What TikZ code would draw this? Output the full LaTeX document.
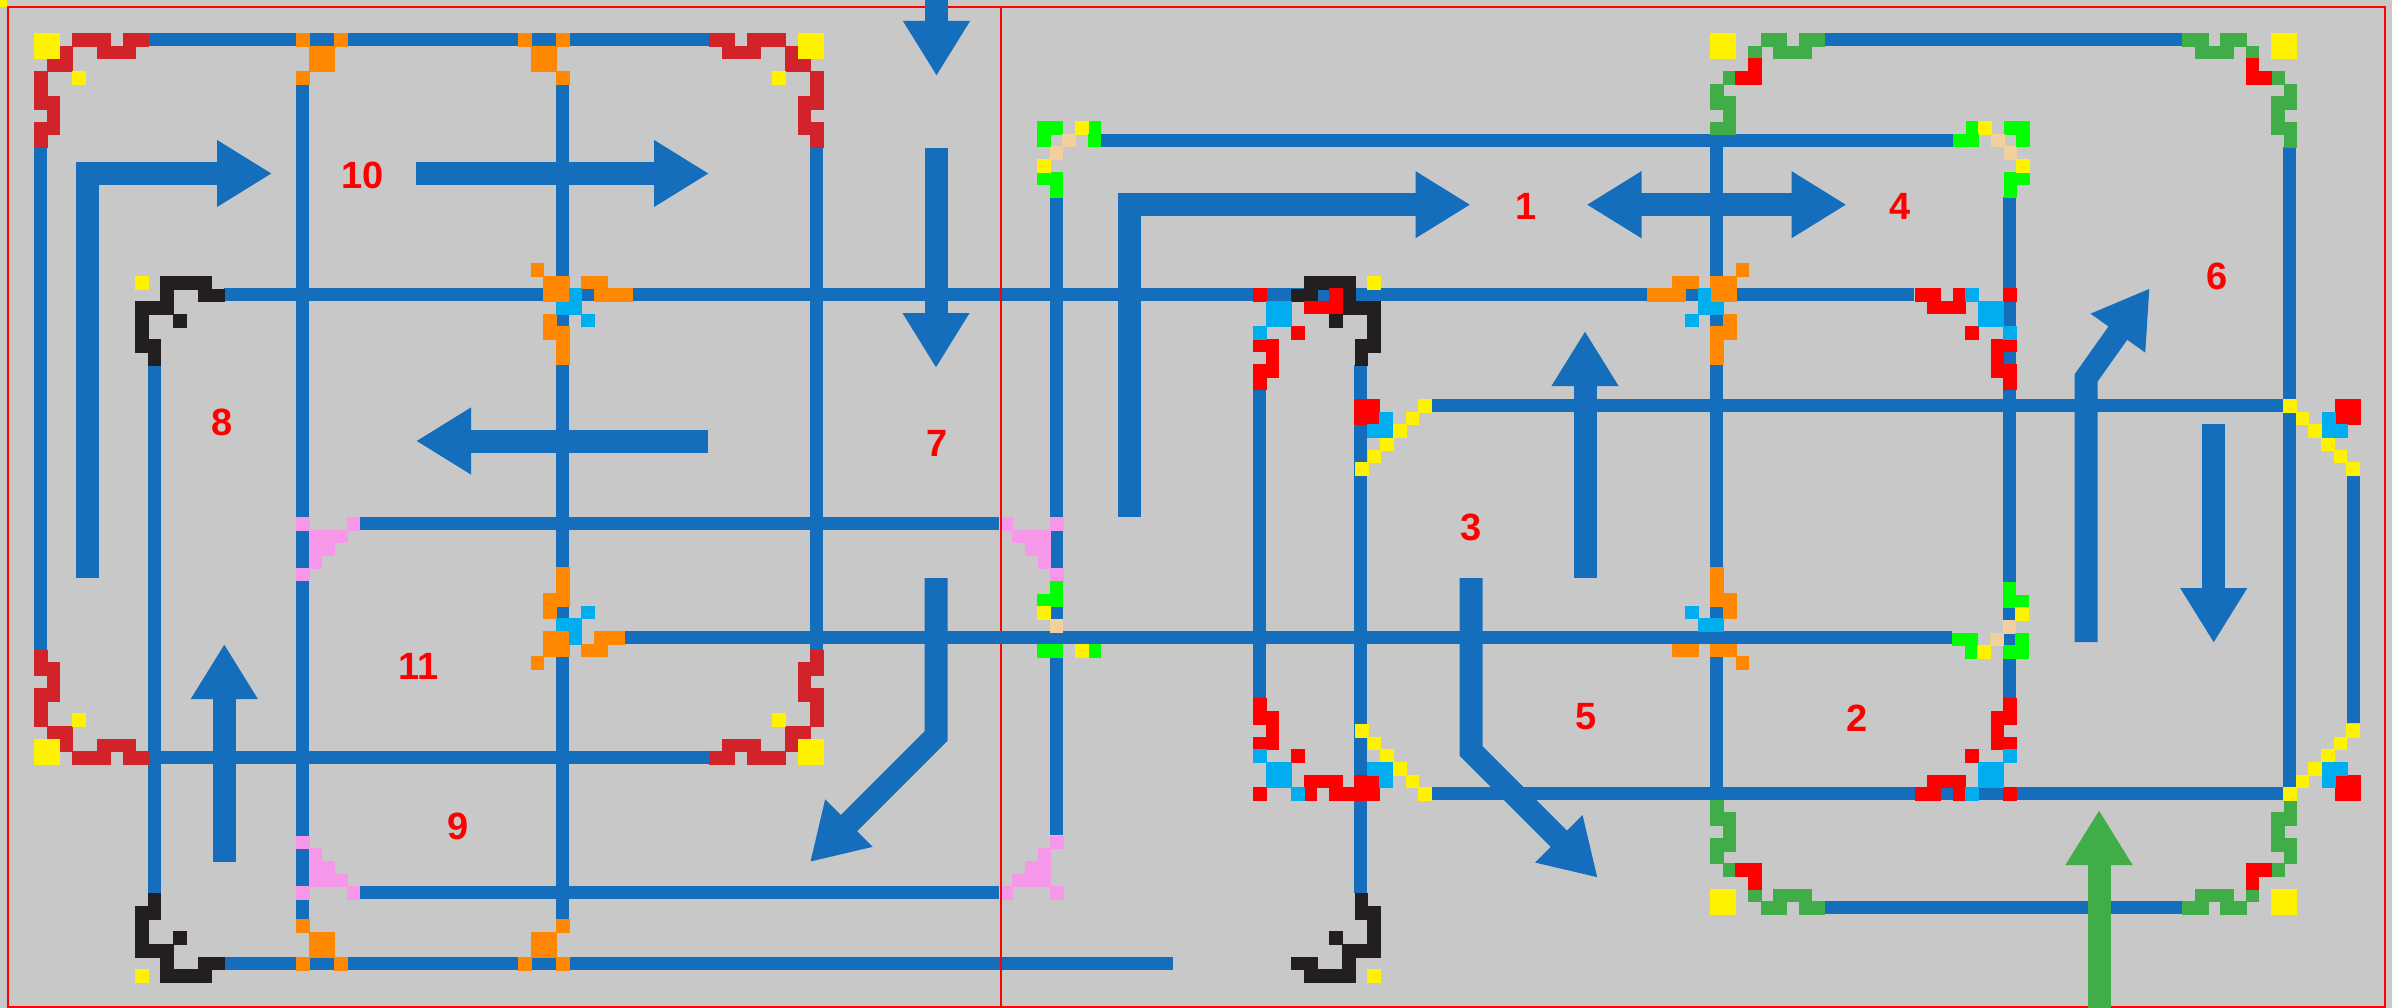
\documentclass[tikz,border=0pt]{standalone}
\usepackage{xcolor}
\usepackage{fontspec}
\setmainfont{Liberation Sans}
\usetikzlibrary{arrows.meta}

\definecolor{panelgray}{HTML}{C8C8C8}
\definecolor{lineblue}{HTML}{146EBC}
\definecolor{framered}{HTML}{FF0000}
\definecolor{brickred}{HTML}{D2232A}
\definecolor{dotyellow}{HTML}{FFF200}
\definecolor{crossorange}{HTML}{FF8800}
\definecolor{dotcyan}{HTML}{00AEEF}
\definecolor{limegreen}{HTML}{00FF00}
\definecolor{leafgreen}{HTML}{41AD49}
\definecolor{sandbeige}{HTML}{F1D09E}
\definecolor{softpink}{HTML}{F797EA}
\definecolor{nearblack}{HTML}{231F20}

\tikzset{
  wire/.style={line width=13pt, draw=lineblue},
  framer/.style={line width=2pt, draw=framered},
  bigarrow/.style={line width=23pt, line join=miter, draw=lineblue, -{Triangle[length=55pt,width=63pt]}},
  bothways/.style={line width=23pt, draw=lineblue, {Triangle[length=55pt,width=63pt]}-{Triangle[length=55pt,width=63pt]}},
  zone/.style={text=framered, font=\bfseries\fontsize{38}{38}\selectfont, inner sep=0pt}
}

% anchor x, anchor y, x sign, y sign, colour, list of col/row
\newcommand{\cells}[6]{%
  \foreach \i/\j in {#6}
    \filldraw[draw=#5, fill=#5, line width=.3pt] ({#1+(#3)*(\i)*12.67},{#2+(#4)*(\j)*12.67}) rectangle +({(#3)*12.67},{(#4)*12.67});
}
\newcommand{\brickcorner}[4]{%
  \cells{#1}{#2}{#3}{#4}{brickred}{3/0,4/0,5/0,7/0,8/0,2/1,5/1,6/1,7/1,1/2,2/2,0/3,0/4,0/5,1/5,1/6,0/7,1/7,0/8}
  \cells{#1}{#2}{#3}{#4}{dotyellow}{0/0,1/0,0/1,1/1,3/3}
}
\newcommand{\leafcorner}[4]{%
  \cells{#1}{#2}{#3}{#4}{leafgreen}{4/0,5/0,7/0,8/0,3/1,5/1,6/1,7/1,1/3,0/4,0/5,1/5,1/6,0/7,1/7}
  \cells{#1}{#2}{#3}{#4}{framered}{3/2,2/3,3/3}
  \cells{#1}{#2}{#3}{#4}{dotyellow}{0/0,1/0,0/1,1/1}
}
\newcommand{\blackcorner}[4]{%
  \cells{#1}{#2}{#3}{#4}{nearblack}{2/0,3/0,4/0,5/0,2/1,5/1,6/1,0/2,1/2,2/2,0/3,3/3,0/4,0/5,1/5,1/6}
  \cells{#1}{#2}{#3}{#4}{dotyellow}{0/0}
}
\newcommand{\pinkcorner}[4]{%
  \cells{#1}{#2}{#3}{#4}{softpink}{0/0,4/0,1/1,2/1,3/1,1/2,2/2,1/3,0/4}
}
\newcommand{\limecorner}[4]{%
  \cells{#1}{#2}{#3}{#4}{limegreen}{0/0,1/0,4/0,0/4,1/4,1/5}
  \cells{#1}{#2}{#3}{#4}{dotyellow}{3/0,0/3}
  \cells{#1}{#2}{#3}{#4}{sandbeige}{1/2}
}
\newcommand{\redcorner}[4]{%
  \cells{#1}{#2}{#3}{#4}{framered}{0/0,3/3,0/4,1/4,1/5,0/6,1/6,0/7,6/0,4/1,5/1,6/1}
  \cells{#1}{#2}{#3}{#4}{dotcyan}{1/1,2/1,1/2,2/2,0/3}
}
\newcommand{\crosscorner}[4]{%
  \cells{#1}{#2}{#3}{#4}{crossorange}{-2/0,-1/1,0/1,2/1,3/1,-1/4,-1/5,0/5,0/6,0/7}
  \cells{#1}{#2}{#3}{#4}{dotcyan}{0/3,1/3,2/4}
}
\newcommand{\capcorner}[4]{%
  \cells{#1}{#2}{#3}{#4}{crossorange}{0/0,3/0,1/1,2/1,1/2,2/2,0/3}
}
\newcommand{\stairs}[4]{%
  \cells{#1}{#2}{#3}{#4}{dotyellow}{0/0,1/1,2/2,3/3,4/4,5/5}
}
\newcommand{\tipblock}[4]{%
  \cells{#1}{#2}{#3}{#4}{framered}{0/0,1/0,0/1,1/1}
  \cells{#1}{#2}{#3}{#4}{dotcyan}{2/1,1/2,2/2}
}

\begin{document}
\begin{tikzpicture}[x=1pt, y=-1pt]
    \fill[panelgray] (0,0) rectangle (2392,1008);
    \useasboundingbox (0,0) rectangle (2392,1008);
    \fill[dotyellow] (0,0) rectangle (7,7);
    \draw[framer] (8,7.5) rectangle (2385,1006.5);

    % wires
    \foreach \x/\a/\b in {40.5/147/650, 154.5/365/893, 302.5/84/919, 562.5/84/919, 816.5/147/650,
        1056.5/197/835, 1259.5/390/698, 1360.5/365/893, 1716.5/134/800, 2009.5/197/698,
        2289.5/147/800, 2353.5/475/723}
        \draw[wire] (\x,\a) -- (\x,\b);
    \foreach \y/\a/\b in {39.5/148/709, 39.5/1824/2182, 140.5/1101/1953, 294.5/224/1914,
        405.5/1431/2283, 523.5/360/999, 637.5/624/1952, 757.5/148/709, 793.5/1431/2283,
        892.5/360/999, 907.5/1824/2182, 963.5/224/1173}
        \draw[wire] (\a,\y) -- (\b,\y);

    % arrows
    \draw[bigarrow] (87,578) -- (87,173.5) -- (272,173.5);
    \draw[bigarrow] (416,173.5) -- (709,173.5);
    \draw[bigarrow] (936.5,0) -- (936.5,76);
    \draw[bigarrow] (936,148) -- (936,368);
    \draw[bigarrow] (708,441) -- (416,441);
    \draw[bigarrow] (936,578) -- (936,736) -- (810,862);
    \draw[bigarrow] (1129.3,517) -- (1129.3,204.7) -- (1470.5,204.7);
    \draw[bothways] (1586.5,204.7) -- (1846.5,204.7);
    \draw[bigarrow] (1585,578) -- (1585,331);
    \draw[bigarrow, draw=leafgreen] (2099,1008) -- (2099,810);
    \draw[bigarrow] (2213.7,424) -- (2213.7,643);
    \draw[bigarrow] (2086,642) -- (2086,378) -- (2149.7,288.3);
    \draw[bigarrow] (1471,578) -- (1471,751) -- (1597.7,877.7);
    \draw[bigarrow] (224.3,861.7) -- (224.3,644);

    % corners
    \brickcorner{34}{33}{1}{1}
    \brickcorner{34}{764}{1}{-1}
    \brickcorner{823}{33}{-1}{1}
    \brickcorner{823}{764}{-1}{-1}
    \leafcorner{1710}{33}{1}{1}
    \leafcorner{2296.5}{33}{-1}{1}
    \leafcorner{1710}{914}{1}{-1}
    \leafcorner{2296.5}{914}{-1}{-1}
    \cells{2296.5}{33}{-1}{1}{leafgreen}{0/8}
    \cells{1710}{914}{1}{-1}{leafgreen}{0/8}
    \cells{2296.5}{914}{-1}{-1}{leafgreen}{0/8}
    \blackcorner{135}{276}{1}{1}
    \blackcorner{135}{982}{1}{-1}
    \blackcorner{1380}{276}{-1}{1}
    \blackcorner{1380}{982}{-1}{-1}
    \pinkcorner{296}{517}{1}{1}
    \pinkcorner{296}{899}{1}{-1}
    \pinkcorner{1063}{517}{-1}{1}
    \pinkcorner{1063}{899}{-1}{-1}
    \limecorner{1037}{121}{1}{1}
    \limecorner{2029}{121}{-1}{1}
    \limecorner{1037}{657}{1}{-1}
    \limecorner{2028}{658}{-1}{-1}
    \cells{1037}{121}{1}{1}{limegreen}{0/1,4/1}
    \cells{1037}{121}{1}{1}{sandbeige}{2/1}
    \cells{2029}{121}{-1}{1}{limegreen}{0/1,4/1,5/1}
    \cells{2029}{121}{-1}{1}{sandbeige}{2/1}
    \cells{2028}{658}{-1}{-1}{limegreen}{0/1,4/1,5/1}
    \cells{2028}{658}{-1}{-1}{sandbeige}{2/1}
    \redcorner{1253}{288}{1}{1}
    \redcorner{1253}{800}{1}{-1}
    \redcorner{2016}{288}{-1}{1}
    \redcorner{2016}{800}{-1}{-1}
    \cells{1253}{800}{1}{-1}{framered}{4/0,7/0}
    \cells{2016}{288}{-1}{1}{framered}{4/0,7/0}
    \cells{2016}{800}{-1}{-1}{framered}{4/0,7/0}
    \cells{1253}{800}{1}{-1}{dotcyan}{3/0}
    \cells{2016}{288}{-1}{1}{dotcyan}{3/0}
    \cells{2016}{800}{-1}{-1}{dotcyan}{3/0}
    \stairs{2283}{399}{1}{1}
    \stairs{2283}{800}{1}{-1}
    \stairs{1431}{399}{-1}{1}
    \stairs{1431}{800}{-1}{-1}
    \tipblock{2360}{399}{-1}{1}
    \tipblock{2360}{800}{-1}{-1}
    \tipblock{1354}{399}{1}{1}
    \tipblock{1354}{800}{1}{-1}
    \crosscorner{556}{263}{1}{1}
    \crosscorner{1723}{263}{-1}{1}
    \crosscorner{556}{669}{1}{-1}
    \crosscorner{1723}{669}{-1}{-1}
    \cells{556}{263}{1}{1}{crossorange}{-1/2,0/2,3/2,4/2,5/2}
    \cells{556}{263}{1}{1}{dotcyan}{1/2}
    \cells{1723}{263}{-1}{1}{crossorange}{-1/2,0/2,3/2,4/2,5/2}
    \cells{1723}{263}{-1}{1}{dotcyan}{1/2}
    \cells{556}{669}{1}{-1}{crossorange}{-1/2,0/2,3/2,4/2,4.4/2}
    \cells{556}{669}{1}{-1}{dotcyan}{1/2}
    \capcorner{296}{33}{1}{1}
    \capcorner{569}{33}{-1}{1}
    \capcorner{296}{970}{1}{-1}
    \capcorner{569}{970}{-1}{-1}

    % divider, over the pink and under the wire at 637.5
    \draw[framer] (1001,7.5) -- (1001,631);
    \draw[framer] (1001,644) -- (1001,1006.5);

    % zones
    \node[zone] (zone1) at (1526,206) {1};
    \node[zone] (zone2) at (1857,718) {2};
    \node[zone] (zone3) at (1471,527) {3};
    \node[zone] (zone4) at (1900,206) {4};
    \node[zone] (zone5) at (1586,717) {5};
    \node[zone] (zone6) at (2217,276) {6};
    \node[zone] (zone7) at (937,443) {7};
    \node[zone] (zone8) at (222,422) {8};
    \node[zone] (zone9) at (458,826) {9};
    \node[zone] (zone10) at (363,175) {10};
    \node[zone] (zone11) at (419,666) {11};
\end{tikzpicture}
\end{document}
